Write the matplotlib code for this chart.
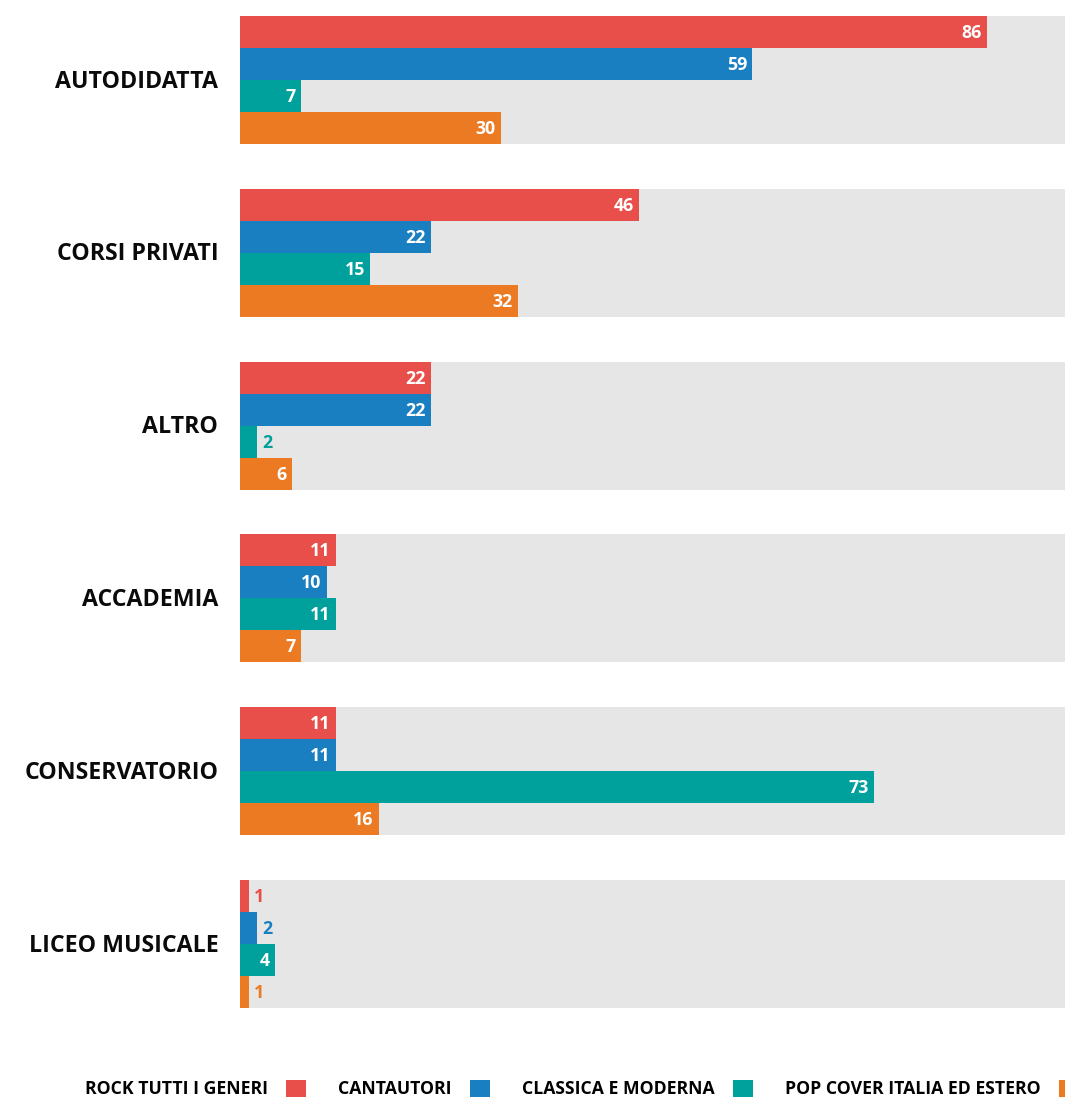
import numpy as np
import matplotlib.pyplot as plt
from matplotlib.patches import Patch

plt.rcParams['font.family'] = ['Open Sans', 'DejaVu Sans']

categories = ["AUTODIDATTA", "CORSI PRIVATI", "ALTRO", "ACCADEMIA",
              "CONSERVATORIO", "LICEO MUSICALE"]
series = ["ROCK TUTTI I GENERI", "CANTAUTORI", "CLASSICA E MODERNA",
          "POP COVER ITALIA ED ESTERO"]
rock = [86, 46, 22, 11, 11, 1]
cantautori = [59, 22, 22, 10, 11, 2]
classica = [7, 15, 2, 11, 73, 4]
pop = [30, 32, 6, 7, 16, 1]

colors = ["#E94F4A", "#1A7FC1", "#00A09D", "#EC7A22"]
bg_color = "#E6E6E6"
xmax = 95
group_step = 5.4

fig = plt.figure(figsize=(10.65, 10.99), dpi=100)
ax = fig.add_axes([240 / 1065, 1 - 1008 / 1099, 825 / 1065, 992 / 1099])

values = [rock, cantautori, classica, pop]
for g, cat in enumerate(categories):
    top = g * group_step
    # gray track behind each group
    ax.barh(top + 2, xmax, height=4, color=bg_color, align="center", zorder=0)
    for k, vals in enumerate(values):
        v = vals[g]
        y = top + k + 0.5
        ax.barh(y, v, height=1, color=colors[k], zorder=1)
        if v >= 3:
            ax.text(v - 0.6, y + 0.03, str(v), ha="right", va="center", color="white",
                    fontsize=12.8, fontweight="bold", zorder=2)
        else:
            ax.text(v + 0.6, y + 0.03, str(v), ha="left", va="center", color=colors[k],
                    fontsize=12.8, fontweight="bold", zorder=2)
    ax.text(-2.5, top + 2.05, cat, ha="right", va="center", fontsize=16.7,
            fontweight="bold", color="#0A0A0A")

ax.set_xlim(0, xmax)
ax.set_ylim(31, 0)
ax.axis("off")

handles = [Patch(facecolor=c, edgecolor="none") for c in colors]
leg = fig.legend(handles, series, loc="center left", ncol=4, frameon=False,
                 markerfirst=False, bbox_to_anchor=(85 / 1065, 1 - 1089 / 1099),
                 prop={"weight": "bold", "size": 12.7},
                 handlelength=1.14, handleheight=1.14, handletextpad=1.0,
                 columnspacing=1.85, borderaxespad=0, borderpad=0)

fig.savefig("out.png", dpi=100)
